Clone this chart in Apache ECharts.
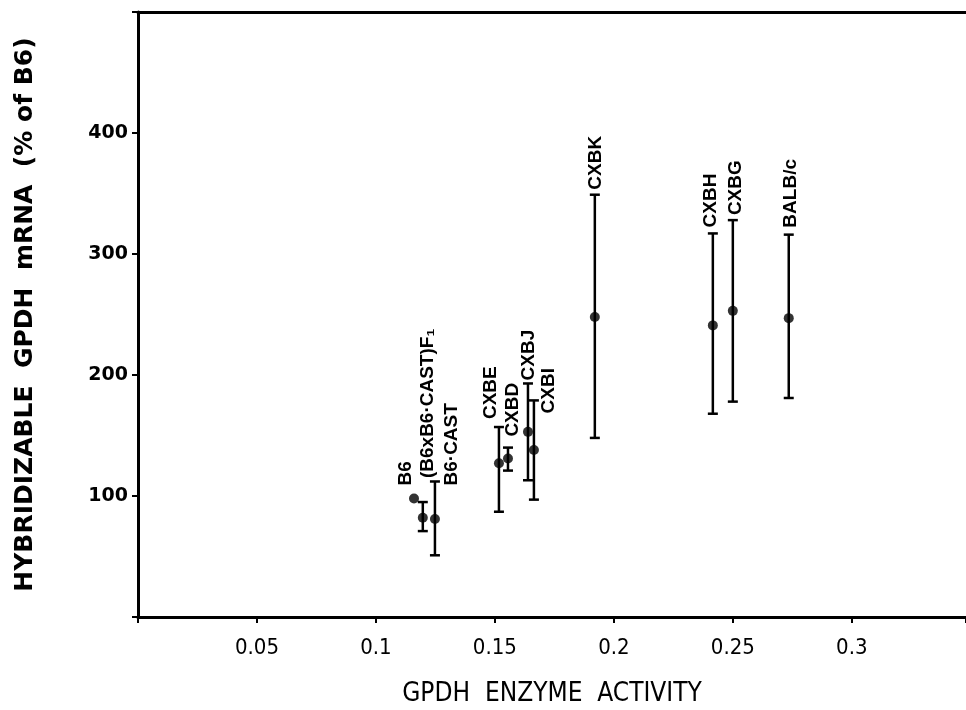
<!DOCTYPE html>
<html lang="en">
<head>
    <meta charset="utf-8">
    <title>GPDH mRNA vs enzyme activity</title>
    <script src="https://cdn.jsdelivr.net/npm/echarts@6/dist/echarts.min.js"></script>
</head>
<body style="margin:0;background:#fff;">
<div id="main" style="width: 966px;height:710px;"></div>
<script type="text/javascript">
    // strains
    var strains = ['B6', '(B6xB6·CAST)F\u2081', 'B6·CAST', 'CXBE', 'CXBD', 'CXBJ', 'CXBI', 'CXBK', 'CXBH', 'CXBG', 'BALB/c'];
    var activity = [0.116, 0.1197, 0.1248, 0.1517, 0.1555, 0.1639, 0.1664, 0.192, 0.2416, 0.250, 0.2735];
    var mrna = [98, 82, 81, 127, 131, 153, 138, 248, 241, 253, 247];
    var errLow = [null, 71, 51, 87, 121, 113, 97, 148, 168, 178, 181];
    var errHigh = [null, 95, 112, 157, 140, 193, 179, 349, 317, 328, 316];
    var yTicks = [100, 200, 300, 400];
    var xTicks = [0.05, 0.1, 0.15, 0.2, 0.25, 0.3];

    // label placement in px: [dx, gap above bar top]
    var labelShift = [[-8, 13], [5, 24], [17, -4], [-8, 8], [5, 11], [1, 3], [15, -13], [1, 5], [-2, 6], [3, 5], [2, 7]];

    var pts = [];
    for (var i = 0; i < strains.length; i++) {
        pts.push([activity[i], mrna[i]]);
    }

    function renderBar(params, api) {
        var i = params.dataIndex;
        var p = api.coord([activity[i], mrna[i]]);
        var kids = [];
        var topY = p[1];
        if (errLow[i] != null) {
            var a = api.coord([activity[i], errHigh[i]]);
            var b = api.coord([activity[i], errLow[i]]);
            topY = a[1];
            var st = {stroke: '#000', lineWidth: 2.5};
            kids.push({type: 'line', shape: {x1: a[0], y1: a[1], x2: b[0], y2: b[1]}, style: st});
            kids.push({type: 'line', shape: {x1: a[0] - 5, y1: a[1], x2: a[0] + 5, y2: a[1]}, style: st});
            kids.push({type: 'line', shape: {x1: b[0] - 5, y1: b[1], x2: b[0] + 5, y2: b[1]}, style: st});
        }
        var s = labelShift[i];
        kids.push({
            type: 'text',
            x: p[0] + s[0],
            y: topY - s[1],
            rotation: Math.PI / 2,
            style: {
                text: strains[i],
                fill: '#000',
                font: 'bold 19px "Liberation Sans", Arial, sans-serif',
                align: 'left',
                verticalAlign: 'middle'
            }
        });
        return {type: 'group', children: kids};
    }

    var myChart = echarts.init(document.getElementById('main'));
    var option = {
        animation: false,
        backgroundColor: '#fff',
        grid: {left: 138, right: 0, top: 12, bottom: 93, outerBoundsMode: 'none'},
        xAxis: [{
            type: 'value',
            min: 0,
            max: 0.348,
            interval: 0.05,
            name: 'GPDH  ENZYME  ACTIVITY',
            nameLocation: 'middle',
            nameGap: 64,
            nameTextStyle: {color: '#000', fontSize: 26, fontFamily: '"DejaVu Sans Condensed", "Liberation Sans Narrow", sans-serif'},
            axisLine: {lineStyle: {color: '#000', width: 3}},
            axisTick: {length: 6, lineStyle: {color: '#000', width: 2}},
            axisLabel: {
                color: '#000', fontSize: 22, margin: 20,
                fontFamily: '"DejaVu Sans Condensed", "Liberation Sans Narrow", sans-serif',
                formatter: function (v) {
                    var t = +v.toFixed(2);
                    return xTicks.indexOf(t) >= 0 ? String(t) : '';
                }
            },
            splitLine: {show: false}
        }, {
            type: 'value',
            position: 'top',
            min: 0,
            max: 0.348,
            axisLine: {show: true, lineStyle: {color: '#000', width: 3}},
            axisTick: {show: false},
            axisLabel: {show: false},
            splitLine: {show: false}
        }],
        yAxis: {
            type: 'value',
            min: 0,
            max: 500,
            interval: 100,
            name: 'HYBRIDIZABLE  GPDH  mRNA  (% of B6)',
            nameLocation: 'middle',
            nameGap: 100,
            nameTextStyle: {color: '#000', fontSize: 25, fontWeight: 'bold', fontFamily: '"DejaVu Sans", sans-serif'},
            axisLine: {show: true, lineStyle: {color: '#000', width: 3}},
            axisTick: {length: 6, lineStyle: {color: '#000', width: 2}},
            axisLabel: {
                color: '#000', fontSize: 19, fontWeight: 'bold', margin: 10,
                fontFamily: '"DejaVu Sans", sans-serif',
                formatter: function (v) { return yTicks.indexOf(v) >= 0 ? String(v) : ''; }
            },
            splitLine: {show: false}
        },
        series: [{
            type: 'custom',
            renderItem: renderBar,
            data: pts,
            z: 2
        }, {
            type: 'scatter',
            data: pts,
            symbolSize: 10,
            itemStyle: {color: '#000'},
            z: 3
        }]
    };
    myChart.setOption(option);
</script>
</body>
</html>
